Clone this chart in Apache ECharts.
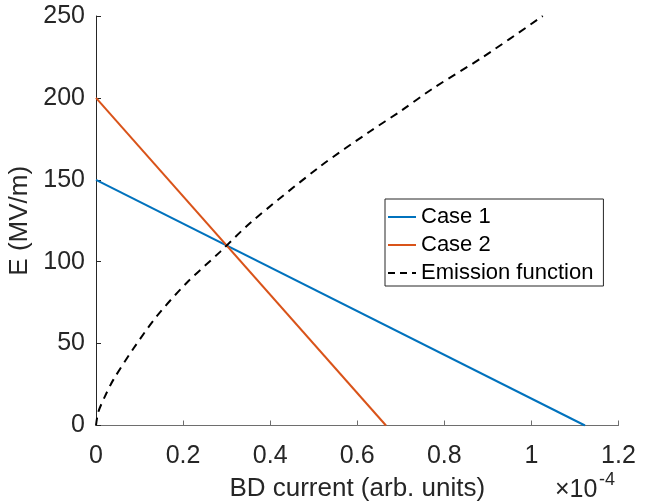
<!DOCTYPE html>
<html><head><meta charset="utf-8">
<script src="https://cdn.jsdelivr.net/npm/echarts@6/dist/echarts.min.js"></script>
<style>html,body{margin:0;padding:0;background:#fff}#c{width:649px;height:504px}</style>
</head><body><div id="c"></div>
<script>
// x in units of 1e-4 (arb. units), y in MV/m
const case1X = [0, 1.123];
const case1Y = [150, 0];
const case2X = [0, 0.666];
const case2Y = [200, 0];
const emisX = [0, 0.005, 0.02, 0.04, 0.086, 0.139, 0.208, 0.285, 0.354, 0.514, 0.629, 0.70, 0.775, 0.889, 1.026];
const emisY = [0, 8, 17.5, 28, 47, 66.5, 87, 106, 123.6, 158, 179.5, 192, 206, 225, 250];
const xTicks = [0, 0.2, 0.4, 0.6, 0.8, 1, 1.2];
const yTicks = [0, 50, 100, 150, 200, 250];
const seriesNames = ['Case 1', 'Case 2', 'Emission function'];

const zip = (a, b) => a.map((v, i) => [v, b[i]]);
const font = '"Liberation Sans", Arial, sans-serif';
const txt = '#262626';
const solidIcon = 'path://M0,0h28v2h-28z';
const dashIcon = 'path://M0,0h7v2h-7z M12,0h7v2h-7z M24,0h4v2h-4z';
const chart = echarts.init(document.getElementById('c'));
chart.setOption({
  animation: false,
  backgroundColor: '#fff',
  grid: {left: 96, right: 30.5, top: 16, bottom: 78.5, containLabel: false, outerBoundsMode: 'none'},
  xAxis: {
    type: 'value', min: 0, max: 1.2, interval: 0.2,
    name: 'BD current (arb. units)', nameLocation: 'middle', nameGap: 50,
    nameTextStyle: {color: txt, fontSize: 26, fontFamily: font},
    axisLine: {lineStyle: {color: '#6e6e6e', width: 1}},
    axisTick: {inside: true, length: 5, lineStyle: {color: '#6e6e6e'}},
    axisLabel: {color: txt, fontSize: 25, fontFamily: font, margin: 18,
      formatter: v => String(parseFloat(v.toFixed(1)))},
    splitLine: {show: false}
  },
  yAxis: {
    type: 'value', min: 0, max: 250, interval: 50,
    name: 'E (MV/m)', nameLocation: 'middle', nameGap: 56,
    nameTextStyle: {color: txt, fontSize: 26, fontFamily: font},
    axisLine: {show: true, lineStyle: {color: '#262626', width: 1}},
    axisTick: {show: true, inside: true, length: 5, lineStyle: {color: '#262626'}},
    axisLabel: {color: txt, fontSize: 25, fontFamily: font, margin: 11},
    splitLine: {show: false}
  },
  legend: {
    orient: 'vertical', left: 385, top: 199,
    data: [
      {name: seriesNames[0], icon: solidIcon},
      {name: seriesNames[1], icon: solidIcon},
      {name: seriesNames[2], icon: dashIcon}
    ],
    backgroundColor: '#fff', borderColor: '#262626', borderWidth: 1,
    padding: [7, 10, 2, 3],
    itemWidth: 28, itemHeight: 2, itemGap: 6,
    textStyle: {color: '#000', fontSize: 22, fontFamily: font, lineHeight: 22}
  },
  series: [
    {name: seriesNames[0], type: 'line', data: zip(case1X, case1Y), showSymbol: false, symbol: 'none',
      lineStyle: {color: '#0072BD', width: 2}, itemStyle: {color: '#0072BD'}},
    {name: seriesNames[1], type: 'line', data: zip(case2X, case2Y), showSymbol: false, symbol: 'none',
      lineStyle: {color: '#D95319', width: 2}, itemStyle: {color: '#D95319'}},
    {name: seriesNames[2], type: 'line', data: zip(emisX, emisY), showSymbol: false, symbol: 'none', smooth: 0.3,
      lineStyle: {color: '#000', width: 2, type: [8, 6]}, itemStyle: {color: '#000'}}
  ],
  graphic: [
    {type: 'text', left: 555, top: 478,
      style: {text: '×10', fontSize: 25, fontFamily: font, fill: txt}},
    {type: 'text', left: 599, top: 471,
      style: {text: '-4', fontSize: 18, fontFamily: font, fill: txt}}
  ]
});
</script></body></html>
